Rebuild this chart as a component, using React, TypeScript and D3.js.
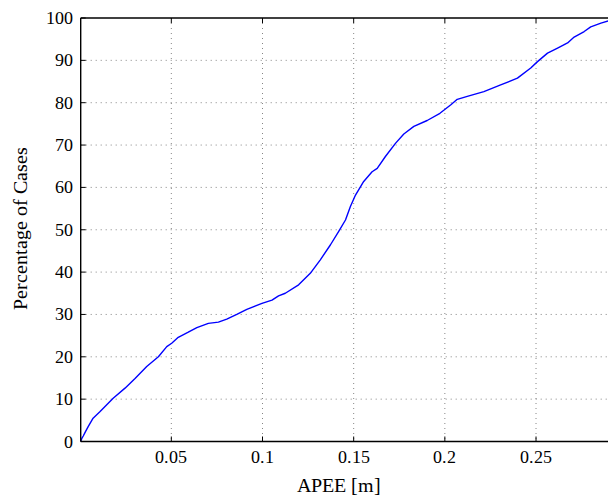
import React from "react";
import * as d3 from "d3";

const apee = [0.0003, 0.0010, 0.0017, 0.0030, 0.0044, 0.0071, 0.0108, 0.0181, 0.0246, 0.0301, 0.0365, 0.0429, 0.0475, 0.0502, 0.0538, 0.0593, 0.0640, 0.0703, 0.0758, 0.0804, 0.0859, 0.0914, 0.0997, 0.1052, 0.1088, 0.1125, 0.1198, 0.1262, 0.1317, 0.1372, 0.1418, 0.1455, 0.1482, 0.1510, 0.1555, 0.1601, 0.1629, 0.1674, 0.1729, 0.1775, 0.1830, 0.1903, 0.1973, 0.2033, 0.2068, 0.2123, 0.2214, 0.2306, 0.2398, 0.2471, 0.2508, 0.2563, 0.2618, 0.2673, 0.2709, 0.2764, 0.2800, 0.2856, 0.2901, 0.2935];
const percent = [0, 0.8, 1.3, 2.4, 3.5, 5.5, 7.0, 10.2, 12.6, 14.9, 17.7, 20.0, 22.4, 23.2, 24.6, 25.8, 26.9, 27.9, 28.2, 28.9, 30.0, 31.2, 32.6, 33.4, 34.4, 35.0, 37.0, 39.7, 42.9, 46.4, 49.6, 52.3, 55.5, 58.2, 61.4, 63.7, 64.5, 67.3, 70.4, 72.6, 74.4, 75.8, 77.5, 79.5, 80.8, 81.5, 82.6, 84.2, 85.8, 88.2, 89.7, 91.7, 92.9, 94.1, 95.5, 96.8, 97.9, 98.8, 99.4, 100];
const xTicks = [0.05, 0.1, 0.15, 0.2, 0.25];
const xTickLabels = ["0.05", "0.1", "0.15", "0.2", "0.25"];
const yTicks = [0, 10, 20, 30, 40, 50, 60, 70, 80, 90, 100];

const W = 608, H = 496;
const L = 80.7, T = 18, B = 441.5;
const R = L + 0.29 * 1823.5;
const FF = '"ChartSerif", "Liberation Serif", Tinos, "Times New Roman", Times';
const CSS = `@font-face { font-family: "ChartSerif"; src: local("Liberation Serif"), local("LiberationSerif"), local("LiberationSerif-Regular"), local("Tinos"), local("Times New Roman"); }
.lbl { font-family: ${FF}; }`;

export default function App() {
  const x = d3.scaleLinear().domain([0.0003, 0.2903]).range([L, R]);
  const y = d3.scaleLinear().domain([0, 100]).range([B, T]);
  const pts = apee.map((v, i) => [v, percent[i]] as [number, number]);
  const line = d3.line<[number, number]>().x(d => x(d[0])).y(d => y(d[1]));
  return (
    <svg width={W} height={H} style={{ position: "absolute", left: 0, top: 0, background: "#fff" }}>
      <style>{CSS}</style>
      <rect x={0} y={0} width={W} height={H} fill="#fff" />
      {xTicks.map(t => (
        <line key={"gx" + t} x1={x(t)} x2={x(t)} y1={T} y2={B} stroke="#666" strokeWidth={0.8} strokeDasharray="1,4" />
      ))}
      {yTicks.filter(t => t > 0 && t < 100).map(t => (
        <line key={"gy" + t} x1={L} x2={R} y1={y(t)} y2={y(t)} stroke="#666" strokeWidth={0.8} strokeDasharray="1,4" />
      ))}
      <path d={line(pts) || ""} fill="none" stroke="#0000ff" strokeWidth={1.4} strokeLinejoin="round" />
      {xTicks.map(t => (
        <g key={"tx" + t}>
          <line x1={x(t)} x2={x(t)} y1={B} y2={B - 5} stroke="#000" strokeWidth={1} />
          <line x1={x(t)} x2={x(t)} y1={T} y2={T + 5} stroke="#000" strokeWidth={1} />
        </g>
      ))}
      {yTicks.map(t => (
        <line key={"ty" + t} x1={L} x2={L + 5} y1={y(t)} y2={y(t)} stroke="#000" strokeWidth={1} />
      ))}
      <line x1={L} x2={R} y1={B} y2={B} stroke="#000" strokeWidth={1.4} />
      <line x1={L} x2={R} y1={T} y2={T} stroke="#000" strokeWidth={1.4} />
      <line x1={L} x2={L} y1={T} y2={B} stroke="#000" strokeWidth={1.4} />
      <line x1={R} x2={R} y1={T} y2={B} stroke="#000" strokeWidth={1.4} />
      {xTicks.map((t, i) => (
        <text key={"lx" + t} className="lbl" x={x(t)} y={463} fontFamily={FF} fontSize={18} textAnchor="middle" fill="#000">{xTickLabels[i]}</text>
      ))}
      {yTicks.map(t => (
        <text key={"ly" + t} className="lbl" x={73} y={y(t) + 6} fontFamily={FF} fontSize={18} textAnchor="end" fill="#000">{String(t)}</text>
      ))}
      <text className="lbl" x={339} y={491.5} fontFamily={FF} fontSize={20} textAnchor="middle" fill="#000">APEE [m]</text>
      <text className="lbl" transform="translate(26.5,228) rotate(-90)" fontFamily={FF} fontSize={20} textAnchor="middle" fill="#000">Percentage of Cases</text>
    </svg>
  );
}
